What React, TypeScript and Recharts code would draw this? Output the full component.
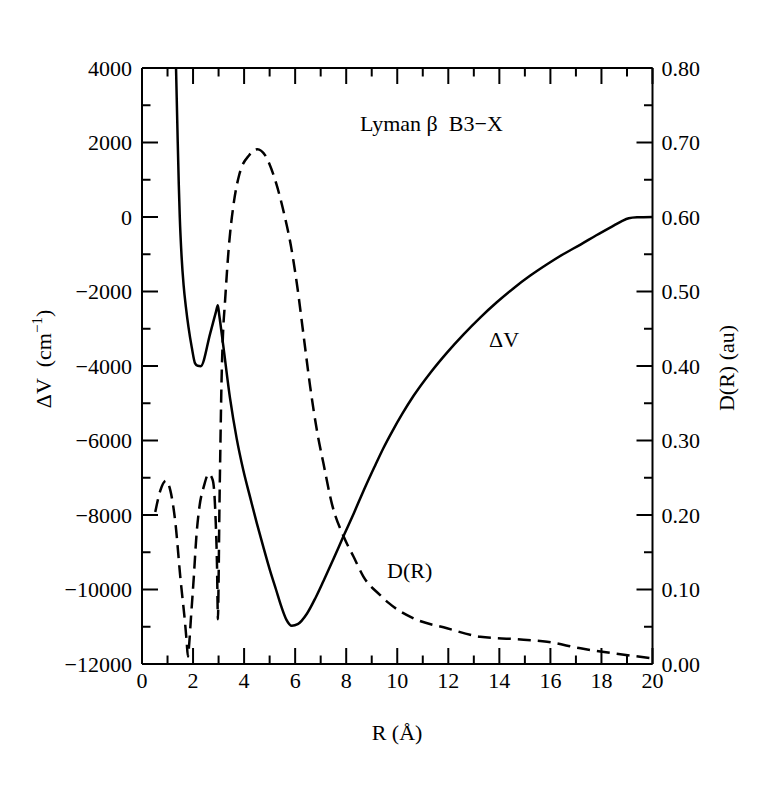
import React from 'react';
import { ComposedChart, Line, XAxis, YAxis } from 'recharts';

// ---- Data ----
const rDeltaV = [1.333, 1.39, 1.44, 1.48, 1.55, 1.63, 1.72, 1.82, 1.95, 2.08, 2.18, 2.30, 2.67, 2.90, 2.97, 3.03, 3.19, 3.45, 3.71, 3.97, 4.25, 4.5, 4.75, 5.02, 5.25, 5.45, 5.65, 5.87, 6.1, 6.46, 6.8, 7.11, 7.5, 7.9, 8.3, 8.68, 9.1, 9.46, 9.8, 10.2, 10.64, 11.3, 11.95, 12.6, 13.25, 13.9, 14.56, 15.2, 15.87, 16.5, 17.18, 17.8, 18.48, 18.8, 19.07, 19.4, 20];
const deltaV = [4000, 2300, 900, 0, -1050, -1830, -2420, -2950, -3500, -3930, -3995, -4006, -3130, -2540, -2370, -2650, -3488, -4870, -5950, -6800, -7560, -8226, -8850, -9500, -10000, -10440, -10800, -10973, -10930, -10650, -10220, -9770, -9180, -8560, -7950, -7350, -6720, -6200, -5760, -5280, -4800, -4180, -3640, -3150, -2700, -2290, -1910, -1580, -1270, -1000, -740, -490, -230, -110, -35, -10, 0];

const rDipole = [0.52, 0.72, 0.94, 1.11, 1.31, 1.50, 1.70, 1.75, 1.80, 1.83, 1.92, 2.03, 2.13, 2.25, 2.42, 2.61, 2.77, 2.88, 2.94, 2.975, 3.00, 3.03, 3.07, 3.11, 3.17, 3.25, 3.39, 3.60, 3.82, 4.20, 4.52, 4.82, 5.24, 5.57, 5.83, 6.09, 6.33, 6.59, 6.85, 7.11, 7.44, 7.90, 8.29, 8.68, 9.33, 9.66, 10.64, 11.95, 13.25, 14.56, 15.87, 17.18, 18.48, 20];
const dipole = [0.204, 0.233, 0.246, 0.233, 0.189, 0.117, 0.050, 0.030, 0.010, 0.019, 0.063, 0.117, 0.171, 0.211, 0.238, 0.255, 0.247, 0.198, 0.130, 0.060, 0.110, 0.200, 0.290, 0.370, 0.440, 0.485, 0.555, 0.620, 0.658, 0.683, 0.691, 0.683, 0.647, 0.604, 0.562, 0.505, 0.441, 0.372, 0.314, 0.269, 0.215, 0.171, 0.144, 0.117, 0.0925, 0.082, 0.0613, 0.0479, 0.0366, 0.0335, 0.0299, 0.021, 0.0143, 0.0076];

// ---- Ticks ----
const xTicks = [0, 1, 2, 3, 4, 5, 6, 7, 8, 9, 10, 11, 12, 13, 14, 15, 16, 17, 18, 19, 20];
const xLabelTicks = [0, 2, 4, 6, 8, 10, 12, 14, 16, 18, 20];
const leftTicks = [-12000, -11000, -10000, -9000, -8000, -7000, -6000, -5000, -4000, -3000, -2000, -1000, 0, 1000, 2000, 3000, 4000];
const leftLabelTicks = [-12000, -10000, -8000, -6000, -4000, -2000, 0, 2000, 4000];
const rightTicks = [0, 0.05, 0.1, 0.15, 0.2, 0.25, 0.3, 0.35, 0.4, 0.45, 0.5, 0.55, 0.6, 0.65, 0.7, 0.75, 0.8];
const rightLabelTicks = [0, 0.1, 0.2, 0.3, 0.4, 0.5, 0.6, 0.7, 0.8];

const deltaVData = rDeltaV.map((r, i) => ({ r, v: deltaV[i] }));
const dipoleData = rDipole.map((r, i) => ({ r, d: dipole[i] }));

const FONT = '"Liberation Serif", "Times New Roman", Times, serif';
const FS = 22;
const MAJOR = 16;
const MINOR = 8.5;
const SW = 2;

const isIn = (arr: number[], v: number) => arr.some((a) => Math.abs(a - v) < 1e-6);
const fmtNum = (v: number) => (v < 0 ? '\u2212' + Math.abs(v) : String(v));

const LeftTick = (props: any) => {
  const { x, y, payload } = props;
  const v = payload.value;
  const major = isIn(leftLabelTicks, v);
  return (
    <g>
      <line x1={x} x2={x + (major ? MAJOR : MINOR)} y1={y} y2={y} stroke="#000" strokeWidth={SW} />
      {major && (
        <text x={x - 10} y={y} dy="0.35em" textAnchor="end" fontFamily={FONT} fontSize={FS} fill="#000">
          {fmtNum(v)}
        </text>
      )}
    </g>
  );
};

const RightTick = (props: any) => {
  const { x, y, payload } = props;
  const v = payload.value;
  const major = isIn(rightLabelTicks, v);
  return (
    <g>
      <line x1={x} x2={x - (major ? MAJOR : MINOR)} y1={y} y2={y} stroke="#000" strokeWidth={SW} />
      {major && (
        <text x={x + 9} y={y} dy="0.35em" textAnchor="start" fontFamily={FONT} fontSize={FS} fill="#000">
          {v.toFixed(2)}
        </text>
      )}
    </g>
  );
};

const BottomTick = (props: any) => {
  const { x, y, payload } = props;
  const v = payload.value;
  const major = isIn(xLabelTicks, v);
  return (
    <g>
      <line x1={x} x2={x} y1={y} y2={y - (major ? MAJOR : MINOR)} stroke="#000" strokeWidth={SW} />
      {major && (
        <text x={x} y={y + 24} textAnchor="middle" fontFamily={FONT} fontSize={FS} fill="#000">
          {String(v)}
        </text>
      )}
    </g>
  );
};

const TopTick = (props: any) => {
  const { x, y, payload } = props;
  const v = payload.value;
  const major = isIn(xLabelTicks, v);
  return (
    <g>
      <line x1={x} x2={x} y1={y} y2={y + (major ? MAJOR : MINOR)} stroke="#000" strokeWidth={SW} />
    </g>
  );
};

export default function App() {
  return (
    <div style={{ width: 770, height: 784 }}>
      <ComposedChart width={770} height={784} margin={{ top: 0, right: 0, bottom: 0, left: 0 }}>
        <XAxis
          xAxisId="bottom"
          dataKey="r"
          type="number"
          domain={[0, 20]}
          allowDataOverflow
          ticks={xTicks}
          interval={0}
          orientation="bottom"
          height={128}
          tickSize={0}
          tickMargin={0}
          tickLine={false}
          axisLine={{ stroke: '#000', strokeWidth: SW }}
          tick={<BottomTick />}
        />
        <XAxis
          xAxisId="top"
          dataKey="r"
          type="number"
          domain={[0, 20]}
          allowDataOverflow
          ticks={xTicks}
          interval={0}
          orientation="top"
          height={60}
          tickSize={0}
          tickMargin={0}
          tickLine={false}
          axisLine={{ stroke: '#000', strokeWidth: SW }}
          tick={<TopTick />}
        />
        <YAxis
          yAxisId="left"
          type="number"
          domain={[-12000, 4000]}
          allowDataOverflow
          ticks={leftTicks}
          interval={0}
          orientation="left"
          width={134}
          tickSize={0}
          tickMargin={0}
          tickLine={false}
          axisLine={{ stroke: '#000', strokeWidth: SW }}
          tick={<LeftTick />}
        />
        <YAxis
          yAxisId="right"
          type="number"
          domain={[0, 0.8]}
          allowDataOverflow
          ticks={rightTicks}
          interval={0}
          orientation="right"
          width={125.5}
          tickSize={0}
          tickMargin={0}
          tickLine={false}
          axisLine={{ stroke: '#000', strokeWidth: SW }}
          tick={<RightTick />}
        />
        <Line
          xAxisId="bottom"
          yAxisId="right"
          data={dipoleData}
          dataKey="d"
          type="monotone"
          stroke="#000"
          strokeWidth={2.5}
          strokeDasharray="13 7"
          dot={false}
          activeDot={false}
          isAnimationActive={false}
        />
        <Line
          xAxisId="bottom"
          yAxisId="left"
          data={deltaVData}
          dataKey="v"
          type="monotone"
          stroke="#000"
          strokeWidth={2.5}
          dot={false}
          activeDot={false}
          isAnimationActive={false}
        />
        <text x={389} y={732} textAnchor="middle" fontFamily={FONT} fontSize={FS} fill="#000">
          R (Å)
        </text>
        <text transform="translate(43, 351) rotate(-90)" textAnchor="middle" fontFamily={FONT} fontSize={FS} fill="#000">
          ΔV{'\u00A0\u00A0'}(cm
          <tspan dy={-9} fontSize={15}>{'\u22121'}</tspan>
          <tspan dy={9}>)</tspan>
        </text>
        <text transform="translate(726, 360) rotate(-90)" textAnchor="middle" fontFamily={FONT} fontSize={FS} fill="#000">
          D(R) (au)
        </text>
        <text x={352} y={123} fontFamily={FONT} fontSize={FS} fill="#000">
          {'Lyman β\u00A0\u00A0B3\u2212X'}
        </text>
        <text x={481} y={339} fontFamily={FONT} fontSize={FS} fill="#000">
          ΔV
        </text>
        <text x={379} y={570} fontFamily={FONT} fontSize={FS} fill="#000">
          D(R)
        </text>
      </ComposedChart>
    </div>
  );
}
